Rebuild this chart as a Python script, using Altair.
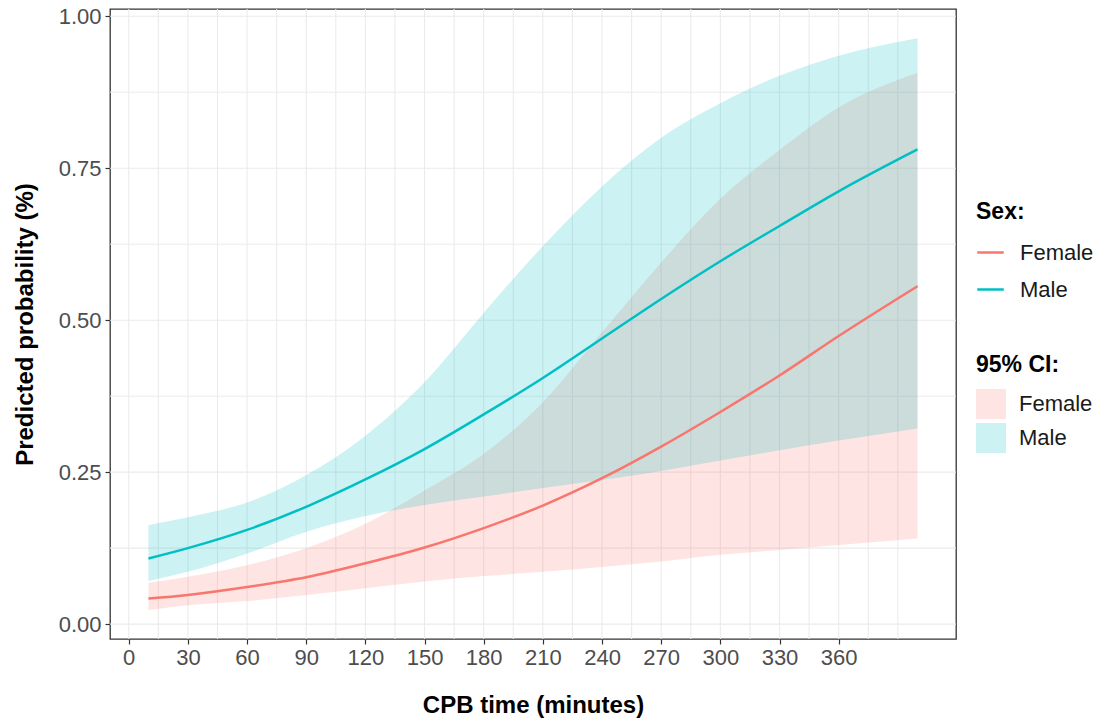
import altair as alt
import pandas as pd

# ---- data ----
cpb_minutes = [10, 30, 60, 90, 120, 150, 180, 210, 240, 270, 300, 330, 360, 400]

male_est = [0.108, 0.125, 0.155, 0.193, 0.238, 0.288, 0.345, 0.405, 0.470, 0.535, 0.597, 0.655, 0.712, 0.781]
male_lo = [0.071, 0.086, 0.116, 0.152, 0.178, 0.196, 0.210, 0.224, 0.237, 0.252, 0.269, 0.286, 0.302, 0.322]
male_hi = [0.163, 0.176, 0.200, 0.245, 0.310, 0.398, 0.512, 0.622, 0.720, 0.800, 0.857, 0.902, 0.935, 0.964]

female_est = [0.042, 0.048, 0.061, 0.077, 0.100, 0.126, 0.158, 0.195, 0.240, 0.292, 0.349, 0.409, 0.474, 0.556]
female_lo = [0.023, 0.031, 0.038, 0.048, 0.059, 0.070, 0.079, 0.086, 0.094, 0.103, 0.114, 0.122, 0.130, 0.141]
female_hi = [0.068, 0.078, 0.097, 0.125, 0.165, 0.220, 0.280, 0.365, 0.480, 0.595, 0.700, 0.780, 0.850, 0.907]

sexes = ["Female", "Male"]
ci_groups = ["Female CI", "Male CI"]
colors = ["#F8766D", "#00BFC4"]

x_tick_values = [0, 30, 60, 90, 120, 150, 180, 210, 240, 270, 300, 330, 360]
y_tick_values = [0.0, 0.25, 0.5, 0.75, 1.0]
grid_x = [0, 15, 30, 45, 60, 75, 90, 105, 120, 135, 150, 165, 180, 195, 210,
          225, 240, 255, 270, 285, 300, 315, 330, 345, 360, 375, 390]
grid_y = [0.0, 0.125, 0.25, 0.375, 0.5, 0.625, 0.75, 0.875, 1.0]

rows = []
for sex, ci, est, lo, hi in [("Female", "Female CI", female_est, female_lo, female_hi),
                             ("Male", "Male CI", male_est, male_lo, male_hi)]:
    for x, e, l, h in zip(cpb_minutes, est, lo, hi):
        rows.append({"x": x, "sex": sex, "ci": ci, "est": e, "lo": l, "hi": h})
df = pd.DataFrame(rows)

FONT = "Liberation Sans"

xscale = alt.Scale(domain=[-9.5, 419.5], nice=False, zero=False)
yscale = alt.Scale(domain=[-0.0245, 1.012], nice=False, zero=False)

x_axis = alt.Axis(values=x_tick_values, grid=False, domain=False,
                  tickColor="#333333", tickSize=5, tickWidth=1.2,
                  labelFontSize=22, labelColor="#4D4D4D", labelPadding=3,
                  title="CPB time (minutes)", titleFontSize=24,
                  titleFontWeight="bold", titleColor="#000000", titlePadding=25)
y_axis = alt.Axis(values=y_tick_values, grid=False, domain=False, format=".2f",
                  tickColor="#333333", tickSize=5, tickWidth=1.2,
                  labelFontSize=22, labelColor="#4D4D4D", labelPadding=4,
                  title="Predicted probability (%)", titleFontSize=24,
                  titleFontWeight="bold", titleColor="#000000", titlePadding=21)

X = alt.X("x:Q", scale=xscale, axis=x_axis)

grid_v = alt.Chart(pd.DataFrame({"x": grid_x})).mark_rule(
    color="#EBEBEB", strokeWidth=1.1).encode(x=X)
grid_h = alt.Chart(pd.DataFrame({"y": grid_y})).mark_rule(
    color="#EBEBEB", strokeWidth=1.1).encode(y=alt.Y("y:Q", scale=yscale, axis=y_axis))

fill_enc = alt.Fill("ci:N", scale=alt.Scale(domain=ci_groups, range=colors),
                    legend=alt.Legend(title="95% CI:", orient="none", legendX=866, legendY=345,
                                      labelExpr="replace(datum.label, ' CI', '')",
                                      symbolType="square", symbolSize=900, symbolOpacity=0.2,
                                      symbolStrokeWidth=0, labelFontSize=22, titleFontSize=23,
                                      titleFontWeight="bold", titleColor="#000000",
                                      labelColor="#1A1A1A", labelOffset=13, rowPadding=4,
                                      titlePadding=12))

def band(ci):
    return alt.Chart(df).transform_filter(alt.datum.ci == ci).mark_area(
        opacity=0.2, interpolate="monotone").encode(
        x=X,
        y=alt.Y("lo:Q", scale=yscale, axis=y_axis),
        y2="hi:Q",
        fill=fill_enc,
    )

lines = alt.Chart(df).mark_line(strokeWidth=2.5, interpolate="monotone").encode(
    x=X,
    y=alt.Y("est:Q", scale=yscale, axis=y_axis),
    stroke=alt.Stroke("sex:N", scale=alt.Scale(domain=sexes, range=colors),
                      legend=alt.Legend(title="Sex:", orient="none", legendX=866, legendY=192,
                                        symbolType="stroke", symbolSize=700, symbolStrokeWidth=2.5,
                                        labelFontSize=22, titleFontSize=23, titleFontWeight="bold",
                                        titleColor="#000000", labelColor="#1A1A1A",
                                        labelOffset=15, rowPadding=11, titlePadding=14)),
)

chart = alt.layer(grid_v, grid_h, band("Female CI"), band("Male CI"), lines).properties(
    width=846, height=630,
    autosize=alt.AutoSizeParams(type="none"),
    padding={"left": 110, "top": 9, "right": 162, "bottom": 81},
).configure(font=FONT).configure_view(stroke="#333333", strokeWidth=1.3)

chart.save("out.html", embed_options={"renderer": "svg", "actions": False})
